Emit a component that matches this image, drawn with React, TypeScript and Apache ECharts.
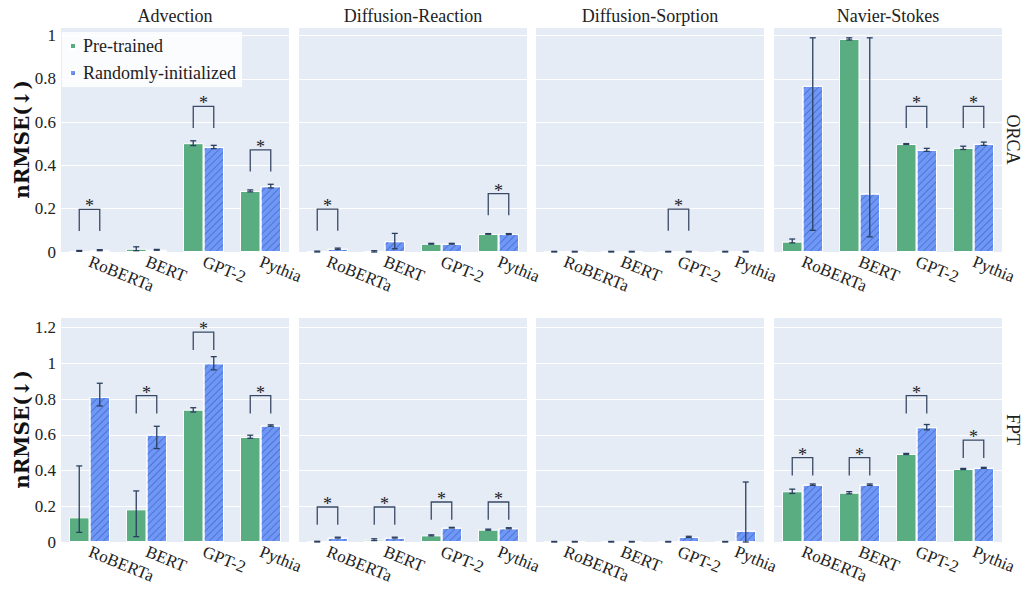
import React, { useEffect, useRef } from "react";
import * as echarts from "echarts";

const categories = ["RoBERTa", "BERT", "GPT-2", "Pythia"];
const panelTitles = ["Advection", "Diffusion-Reaction", "Diffusion-Sorption", "Navier-Stokes"];
const methodNames = ["ORCA", "FPT"];
const seriesNames = ["Pre-trained", "Randomly-initialized"];
const rowMax = [1.04, 1.26];

// ORCA (top row) — [panel][category]
const orcaPreMean = [
  [0.005, 0.015, 0.503, 0.282],
  [0.002, 0.002, 0.038, 0.083],
  [0.001, 0.001, 0.001, 0.001],
  [0.048, 0.985, 0.499, 0.481],
];
const orcaPreLow = [
  [0.003, 0.006, 0.492, 0.278],
  [0.0, 0.0, 0.036, 0.082],
  [0.0, 0.0, 0.0, 0.0],
  [0.042, 0.98, 0.497, 0.474],
];
const orcaPreHigh = [
  [0.007, 0.024, 0.514, 0.287],
  [0.004, 0.006, 0.04, 0.085],
  [0.003, 0.003, 0.003, 0.003],
  [0.06, 0.99, 0.501, 0.489],
];
const orcaRandMean = [
  [0.008, 0.01, 0.485, 0.304],
  [0.015, 0.05, 0.038, 0.083],
  [0.001, 0.001, 0.001, 0.001],
  [0.768, 0.27, 0.472, 0.5],
];
const orcaRandLow = [
  [0.006, 0.008, 0.478, 0.296],
  [0.012, 0.015, 0.036, 0.081],
  [0.0, 0.0, 0.0, 0.0],
  [0.1, 0.07, 0.465, 0.493],
];
const orcaRandHigh = [
  [0.011, 0.012, 0.493, 0.313],
  [0.018, 0.086, 0.04, 0.085],
  [0.003, 0.003, 0.003, 0.003],
  [0.99, 0.99, 0.479, 0.508],
];
const orcaBracket = [
  [0.197, null, 0.673, 0.472],
  [0.198, null, null, 0.27],
  [null, null, 0.198, null],
  [null, null, 0.673, 0.673],
];

// FPT (bottom row) — [panel][category]
const fptPreMean = [
  [0.138, 0.183, 0.741, 0.588],
  [0.002, 0.013, 0.037, 0.069],
  [0.001, 0.001, 0.001, 0.001],
  [0.284, 0.276, 0.493, 0.409],
];
const fptPreLow = [
  [0.054, 0.03, 0.728, 0.581],
  [0.0, 0.008, 0.034, 0.066],
  [0.0, 0.0, 0.0, 0.0],
  [0.272, 0.27, 0.49, 0.406],
];
const fptPreHigh = [
  [0.426, 0.286, 0.752, 0.598],
  [0.004, 0.018, 0.04, 0.072],
  [0.003, 0.003, 0.003, 0.003],
  [0.296, 0.282, 0.496, 0.412],
];
const fptRandMean = [
  [0.812, 0.601, 1.001, 0.652],
  [0.024, 0.024, 0.08, 0.077],
  [0.001, 0.001, 0.028, 0.063],
  [0.321, 0.321, 0.643, 0.415],
];
const fptRandLow = [
  [0.762, 0.523, 0.964, 0.648],
  [0.022, 0.022, 0.078, 0.074],
  [0.0, 0.0, 0.025, 0.0],
  [0.317, 0.317, 0.628, 0.412],
];
const fptRandHigh = [
  [0.889, 0.648, 1.038, 0.656],
  [0.027, 0.027, 0.082, 0.08],
  [0.003, 0.003, 0.032, 0.336],
  [0.325, 0.325, 0.658, 0.418],
];
const fptBracket = [
  [null, 0.82, 1.175, 0.82],
  [0.196, 0.196, 0.224, 0.224],
  [null, null, null, null],
  [0.472, 0.472, 0.82, 0.571],
];

const FONT = "Liberation Serif";
const GREEN = "#5aad80";
const BLUE = "#6f98f6";
const ERR = "#2a3f5f";
const BG = "#e5ecf6";
const colLeft = [61, 299, 536, 774];
const rowTop = [27, 317];
const panelW = 228;
const panelH = 225;
const BAR_GAP = 0.28;
const LEG = 0.1;

function buildOption() {
  const rows = [
    { preMean: orcaPreMean, preLow: orcaPreLow, preHigh: orcaPreHigh, randMean: orcaRandMean, randLow: orcaRandLow, randHigh: orcaRandHigh, bracket: orcaBracket },
    { preMean: fptPreMean, preLow: fptPreLow, preHigh: fptPreHigh, randMean: fptRandMean, randLow: fptRandLow, randHigh: fptRandHigh, bracket: fptBracket },
  ];
  const grid: any[] = [];
  const xAxis: any[] = [];
  const yAxis: any[] = [];
  const series: any[] = [];
  const graphic: any[] = [];

  rows.forEach((row, r) => {
    panelTitles.forEach((title, p) => {
      const gi = r * 4 + p;
      grid.push({
        left: colLeft[p], top: rowTop[r], width: panelW, height: panelH,
        show: true, backgroundColor: BG, borderWidth: 0, containLabel: false,
      });
      xAxis.push({
        type: "category", gridIndex: gi, data: categories,
        axisLine: { show: false }, axisTick: { show: false },
        axisLabel: { interval: 0, rotate: -22, margin: 9, fontFamily: FONT, fontSize: 17, color: "#222" },
        splitLine: { show: false },
      });
      yAxis.push({
        type: "value", gridIndex: gi, min: 0, max: rowMax[r], interval: 0.2,
        axisLine: { show: false }, axisTick: { show: false },
        axisLabel: { show: p === 0, showMaxLabel: false, fontFamily: FONT, fontSize: 17, color: "#222", margin: 5 },
        splitLine: { show: true, lineStyle: { color: "#ffffff", width: 1 } },
      });
      series.push({
        type: "bar", name: seriesNames[0], xAxisIndex: gi, yAxisIndex: gi,
        data: row.preMean[p], barGap: "0%", barCategoryGap: "28%",
        itemStyle: { color: GREEN, borderColor: "#ffffff", borderWidth: 1 },
      });
      series.push({
        type: "bar", name: seriesNames[1], xAxisIndex: gi, yAxisIndex: gi,
        data: row.randMean[p], barGap: "0%", barCategoryGap: "28%",
        itemStyle: {
          color: BLUE, borderColor: "#ffffff", borderWidth: 1,
          decal: { symbol: "rect", symbolSize: 1, dashArrayX: [1, 0], dashArrayY: [1, 4], rotation: -Math.PI / 4, color: "rgba(40,70,170,0.45)" },
        },
      });
      const errData = categories.map((_, c) => [c, row.preLow[p][c], row.preHigh[p][c], row.randLow[p][c], row.randHigh[p][c]]);
      series.push({
        type: "custom", xAxisIndex: gi, yAxisIndex: gi, silent: true, z: 5,
        encode: { x: 0, y: [1, 2, 3, 4] },
        data: errData,
        renderItem: (params: any, api: any) => {
          const c = api.value(0);
          const band = api.size([1, 0])[0];
          const cx = api.coord([c, 0])[0];
          const off = (band * (1 - BAR_GAP)) / 4;
          const children: any[] = [];
          [[cx - off, api.value(1), api.value(2)], [cx + off, api.value(3), api.value(4)]].forEach(([x, lo, hi]) => {
            const y1 = api.coord([c, lo])[1];
            const y2 = api.coord([c, hi])[1];
            const st = { stroke: ERR, lineWidth: 1.3 };
            children.push({ type: "line", shape: { x1: x, y1, x2: x, y2 }, style: st });
            children.push({ type: "line", shape: { x1: x - 3, y1, x2: x + 3, y2: y1 }, style: st });
            children.push({ type: "line", shape: { x1: x - 3, y1: y2, x2: x + 3, y2 }, style: st });
          });
          return { type: "group", children };
        },
      });
      const brData = categories
        .map((_, c) => [c, row.bracket[p][c]])
        .filter((d) => d[1] !== null);
      if (brData.length) {
        series.push({
          type: "custom", xAxisIndex: gi, yAxisIndex: gi, silent: true, z: 6,
          encode: { x: 0, y: 1 },
          data: brData,
          renderItem: (params: any, api: any) => {
            const c = api.value(0);
            const top = api.value(1);
            const band = api.size([1, 0])[0];
            const cx = api.coord([c, 0])[0];
            const off = (band * (1 - BAR_GAP)) / 4;
            const yt = api.coord([c, top])[1];
            const yb = api.coord([c, top - LEG])[1];
            return {
              type: "group",
              children: [
                { type: "polyline", shape: { points: [[cx - off, yb], [cx - off, yt], [cx + off, yt], [cx + off, yb]] }, style: { stroke: "#3a4a66", lineWidth: 1.3, fill: null } },
                { type: "text", x: cx, y: yt - 3, style: { text: "*", fontFamily: FONT, fontSize: 18, fill: "#222", align: "center", verticalAlign: "middle" } },
              ],
            };
          },
        });
      }
      if (r === 0) {
        graphic.push({
          type: "text", x: colLeft[p] + panelW / 2, y: 16,
          style: { text: title, fontFamily: FONT, fontSize: 18, fill: "#222", align: "center", verticalAlign: "middle" },
        });
      }
    });
    graphic.push({
      type: "text", x: 22, y: rowTop[r] + panelH / 2, rotation: Math.PI / 2,
      style: { text: "nRMSE(↓)", fontFamily: "DejaVu Serif", fontWeight: "bold", fontSize: 20, fill: "#111", align: "center", verticalAlign: "middle" },
    });
    graphic.push({
      type: "text", x: 1013, y: rowTop[r] + panelH / 2, rotation: -Math.PI / 2,
      style: { text: methodNames[r], fontFamily: FONT, fontSize: 18, fill: "#222", align: "center", verticalAlign: "middle" },
    });
  });

  return {
    animation: false,
    backgroundColor: "#ffffff",
    grid, xAxis, yAxis, series, graphic,
    legend: {
      data: seriesNames, left: 62, top: 32, orient: "vertical",
      icon: "rect", itemWidth: 6, itemHeight: 6, itemGap: 9,
      backgroundColor: "rgba(255,255,255,0.85)", padding: [5, 6, 5, 7],
      textStyle: { fontFamily: FONT, fontSize: 18, color: "#222", padding: [0, 0, 0, 2] },
    },
  };
}

export default function App() {
  const ref = useRef<HTMLDivElement>(null);
  useEffect(() => {
    if (!ref.current) return;
    const chart = echarts.init(ref.current, null, { renderer: "svg" });
    chart.setOption(buildOption() as any);
    return () => chart.dispose();
  }, []);
  return <div ref={ref} style={{ width: 1024, height: 598, position: "absolute", left: 0, top: 0 }} />;
}
